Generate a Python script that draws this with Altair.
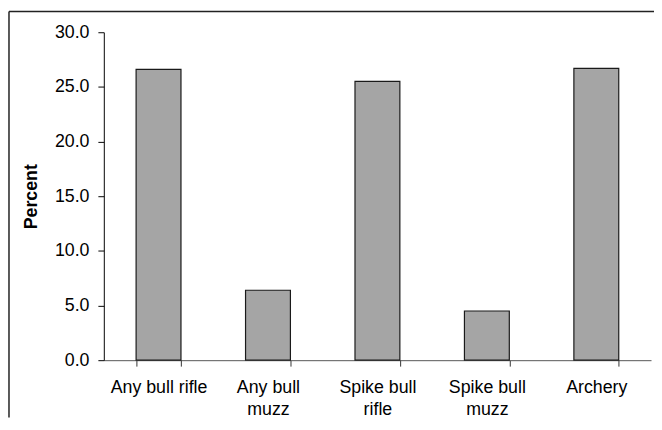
import json
import altair as alt
import pandas as pd

# ---- data ----
categories = ["Any bull rifle", "Any bull muzz", "Spike bull rifle", "Spike bull muzz", "Archery"]
percent = [26.6, 6.4, 25.5, 4.5, 26.7]
label_lines = [["Any bull rifle"], ["Any bull", "muzz"], ["Spike bull", "rifle"], ["Spike bull", "muzz"], ["Archery"]]
y_ticks = [0, 5, 10, 15, 20, 25, 30]

df = pd.DataFrame({"category": categories, "percent": percent})

W, H = 554, 332
PAD_L, PAD_T, PAD_R, PAD_B = 97, 22, 3, 58
FONT = "Liberation Sans"

# multi-line x labels
expr = "datum.label"
for cat, lines in zip(reversed(categories), reversed(label_lines)):
    if len(lines) > 1:
        expr = f"datum.label == {json.dumps(cat)} ? {json.dumps(lines)} : ({expr})"

bars = alt.Chart(df).mark_bar(fill="#a5a5a5", stroke="#1a1a1a", strokeWidth=1.2).encode(
    x=alt.X(
        "category:N",
        sort=categories,
        scale=alt.Scale(paddingInner=0.59, paddingOuter=0.295),
        axis=alt.Axis(
            title=None,
            labelAngle=0,
            tickBand="extent",
            labelExpr=expr,
            labelFont=FONT,
            labelFontSize=18,
            labelColor="black",
            labelLineHeight=22,
            labelBaseline="top",
            tickSize=6,
            labelPadding=13,
            domainColor="#555555",
            tickColor="#333333",
            grid=False,
        ),
    ),
    y=alt.Y(
        "percent:Q",
        scale=alt.Scale(domain=[0, 30]),
        axis=alt.Axis(
            values=y_ticks,
            format=".1f",
            title="Percent",
            titleFont=FONT,
            titleFontSize=18,
            titleFontWeight="bold",
            titleColor="black",
            titleAngle=-90,
            titleX=-73,
            titleY=H / 2,
            titleAlign="center",
            titleBaseline="middle",
            labelFont=FONT,
            labelFontSize=18,
            labelColor="black",
            tickSize=6,
            labelPadding=9,
            domainColor="black",
            tickColor="black",
            grid=False,
        ),
    ),
)

border_df = pd.DataFrame({"k": [0]})
left_border = alt.Chart(border_df).mark_rule(color="#222222", strokeWidth=1.5).encode(
    x=alt.value(-PAD_L + 1), y=alt.value(-PAD_T + 1), y2=alt.value(H + PAD_B)
)
top_border = alt.Chart(border_df).mark_rule(color="#222222", strokeWidth=1.5).encode(
    x=alt.value(-PAD_L + 1), x2=alt.value(W + PAD_R), y=alt.value(-PAD_T + 1)
)

chart = (
    alt.layer(bars, left_border, top_border)
    .properties(
        width=W,
        height=H,
        padding={"left": PAD_L, "top": PAD_T, "right": PAD_R, "bottom": PAD_B},
        autosize=alt.AutoSizeParams(type="none"),
        background="white",
    )
    .configure_view(stroke=None)
)

chart.save("out.html", embed_options={"renderer": "svg", "actions": False})
